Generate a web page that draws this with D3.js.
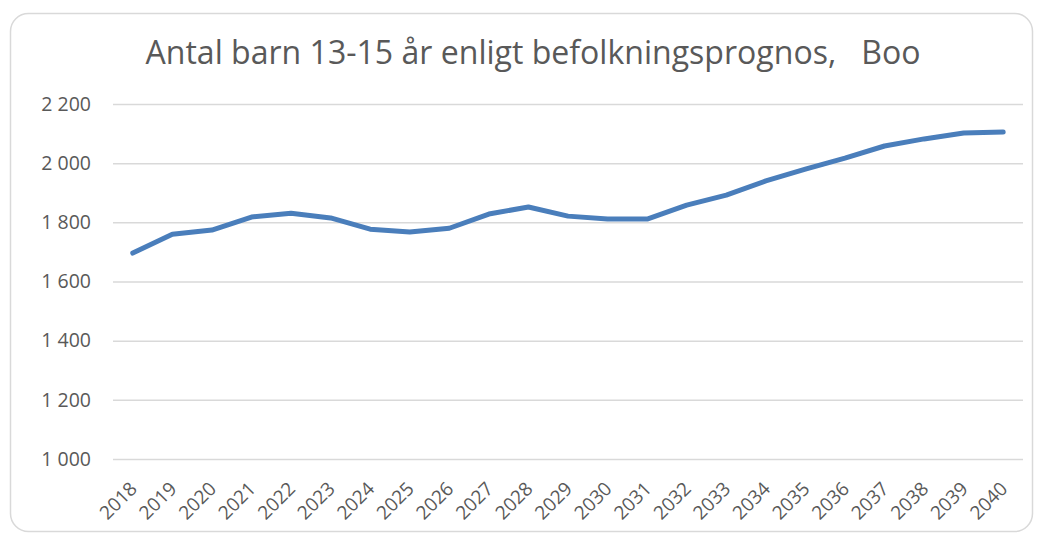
<!DOCTYPE html>
<html><head><meta charset="utf-8">
<script src="https://cdn.jsdelivr.net/npm/d3@7"></script>
<style>body{margin:0;background:#fff;}svg{display:block;}</style>
</head><body>
<script>
const years = ["2018","2019","2020","2021","2022","2023","2024","2025","2026","2027","2028","2029","2030","2031","2032","2033","2034","2035","2036","2037","2038","2039","2040"];
const values = [1696,1760,1774,1818,1831,1815,1777,1767,1780,1828,1852,1821,1811,1811,1858,1892,1940,1980,2017,2058,2082,2102,2105];
const yTicks = [1000,1200,1400,1600,1800,2000,2200];
const title = "Antal barn 13-15 år enligt befolkningsprognos,   Boo";

const W = 1038, H = 533;
const svg = d3.select("body").append("svg").attr("width", W).attr("height", H);
svg.append("rect").attr("x", 10.5).attr("y", 13.5).attr("width", 1022).attr("height", 518)
  .attr("rx", 18).attr("fill", "#fff").attr("stroke", "#d9d9d9").attr("stroke-width", 1.5);

const pL = 113, pR = 1023, pT = 104, pB = 459;
const x = d3.scalePoint().domain(years).range([pL, pR]).padding(0.5);
const y = d3.scaleLinear().domain([1000, 2200]).range([pB, pT]);

const fmt = v => d3.format(",")(v).replace(/,/g, " ");

const yAxis = svg.append("g").attr("transform", `translate(${pL},0)`)
  .call(d3.axisLeft(y).tickValues(yTicks).tickSize(-(pR - pL)).tickPadding(22).tickFormat(fmt));
yAxis.select(".domain").remove();
yAxis.selectAll(".tick line").attr("stroke", "#d9d9d9").attr("stroke-width", 1.5);
yAxis.selectAll(".tick text").attr("fill", "#595959").style("font-family", "'Open Sans', sans-serif").style("font-size", "19.5px");

const xAxis = svg.append("g").attr("transform", `translate(0,${pB})`)
  .call(d3.axisBottom(x).tickSize(0).tickPadding(0));
xAxis.select(".domain").remove();
xAxis.selectAll(".tick text")
  .attr("fill", "#595959").style("font-family", "'Open Sans', sans-serif").style("font-size", "19px")
  .attr("text-anchor", "end").attr("dy", null).attr("y", 0)
  .attr("transform", "translate(5,31) rotate(-45)");

const line = d3.line().x((d, i) => x(years[i])).y(d => y(d));
svg.append("path").datum(values).attr("d", line)
  .attr("fill", "none").attr("stroke", "#4a7ebb").attr("stroke-width", 5)
  .attr("stroke-linejoin", "round").attr("stroke-linecap", "round");

const t = svg.append("text").attr("x", 533).attr("y", 64).attr("text-anchor", "middle")
  .attr("fill", "#595959").style("font-family", "'Open Sans', sans-serif").style("font-size", "26px")
  .style("white-space", "pre").attr("xml:space", "preserve").text(title);
const len = t.node().getComputedTextLength();
t.style("font-size", (26 * 775 / len).toFixed(2) + "px");
</script>
</body></html>
